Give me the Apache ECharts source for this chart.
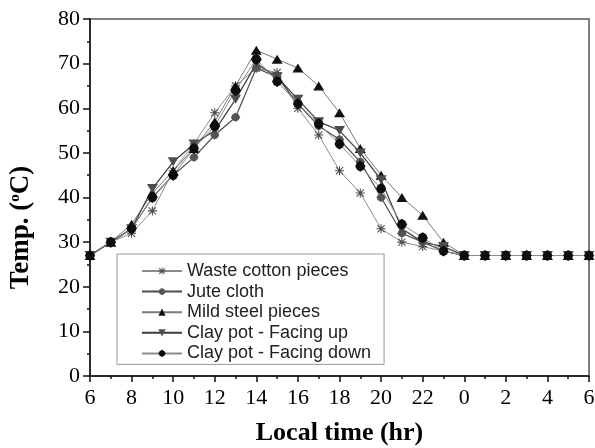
<!DOCTYPE html>
<html>
<head>
<meta charset="utf-8">
<script src="https://cdn.jsdelivr.net/npm/echarts@6/dist/echarts.min.js"></script>
<style>
  html, body { margin: 0; padding: 0; background: #fff; }
  #chart { width: 595px; height: 448px; }
</style>
</head>
<body>
<div id="chart"></div>
<script>
// Clock hour of each hourly reading, 06:00 through 06:00 the next day
const clockHours = [6, 7, 8, 9, 10, 11, 12, 13, 14, 15, 16, 17, 18, 19, 20, 21, 22, 23, 0, 1, 2, 3, 4, 5, 6];

// Temperatures (°C) for each absorber material
const wasteCotton = [27, 30, 32, 37, 46, 52, 59, 65, 69, 68, 60, 54, 46, 41, 33, 30, 29, 28, 27, 27, 27, 27, 27, 27, 27];
const juteCloth   = [27, 30, 33, 40, 45, 49, 54, 58, 69, 67, 61, 56, 53, 48, 40, 32, 30, 28, 27, 27, 27, 27, 27, 27, 27];
const mildSteel   = [27, 30, 34, 41, 46, 51, 57, 65, 73, 71, 69, 65, 59, 51, 45, 40, 36, 30, 27, 27, 27, 27, 27, 27, 27];
const clayPotUp   = [27, 30, 33, 42, 48, 52, 55, 62, 70, 67, 62, 57, 55, 50, 44, 33, 30, 29, 27, 27, 27, 27, 27, 27, 27];
const clayPotDown = [27, 30, 33, 40, 45, 51, 56, 64, 71, 66, 61, 56.5, 52, 47, 42, 34, 31, 28, 27, 27, 27, 27, 27, 27, 27];

const seriesNames = ['Waste cotton pieces', 'Jute cloth', 'Mild steel pieces', 'Clay pot - Facing up', 'Clay pot - Facing down'];

// Marker shapes
const asterisk = 'path://M4.4,0H5.6V10H4.4Z M0,4.4H10V5.6H0Z M0.6,1.4L1.4,0.6L9.4,8.6L8.6,9.4Z M8.6,0.6L9.4,1.4L1.4,9.4L0.6,8.6Z';
const roundDiamond = 'path://M5,0L8.5,2L10,5L8.5,8L5,10L1.5,8L0,5L1.5,2Z';

const pairs = vals => vals.map((v, i) => [i, v]);

function lineSeries(name, vals, opts) {
  return Object.assign({
    name: name,
    type: 'line',
    data: pairs(vals),
    showSymbol: true,
    lineStyle: { width: opts.width || 1, color: opts.line },
    itemStyle: { color: opts.marker, borderWidth: 0 },
    emphasis: { disabled: true },
    z: 2
  }, opts.extra || {});
}

const chart = echarts.init(document.getElementById('chart'), null, { renderer: 'canvas' });

const serif = '"Liberation Serif", "Times New Roman", serif';

chart.setOption({
  animation: false,
  backgroundColor: '#fff',
  grid: {
    left: 90, right: 6, top: 19, bottom: 72,
    outerBoundsMode: 'none',
    containLabel: false,
    show: true, borderColor: '#555', borderWidth: 1.5, backgroundColor: 'transparent'
  },
  legend: {
    orient: 'vertical',
    left: 117, top: 254,
    padding: [8, 13, 2, 24],
    itemWidth: 40, itemHeight: 9, itemGap: 2.6,
    backgroundColor: '#fff',
    borderColor: '#9a9a9a', borderWidth: 1, borderRadius: 0,
    textStyle: { fontFamily: '"Liberation Sans", Arial, sans-serif', fontSize: 18, color: '#222', lineHeight: 18 },
    data: seriesNames
  },
  xAxis: {
    type: 'value',
    min: 0, max: 24, interval: 2,
    name: 'Local time (hr)',
    nameLocation: 'middle',
    nameGap: 44,
    nameTextStyle: { fontFamily: serif, fontWeight: 'bold', fontSize: 26, color: '#000' },
    axisLine: { show: true, lineStyle: { color: '#111', width: 1.5 } },
    axisTick: { show: true, inside: false, length: 6, lineStyle: { color: '#111', width: 1.5 } },
    minorTick: { show: true, splitNumber: 2, length: 3, lineStyle: { color: '#111', width: 1.5 } },
    splitLine: { show: false },
    axisLabel: {
      margin: 11,
      fontFamily: serif, fontSize: 22, color: '#000',
      formatter: v => String(clockHours[v])
    }
  },
  yAxis: {
    type: 'value',
    min: 0, max: 80, interval: 10,
    name: '{t|Temp. (}{s|o}{t|C)}',
    nameLocation: 'middle',
    nameGap: 55,
    nameTextStyle: {
      padding: [0, 60, 0, 0],
      rich: {
        t: { fontFamily: serif, fontWeight: 'bold', fontSize: 27, color: '#000' },
        s: { fontFamily: serif, fontWeight: 'bold', fontSize: 15, color: '#000', verticalAlign: 'top' }
      }
    },
    axisLine: { show: true, lineStyle: { color: '#111', width: 1.5 } },
    axisTick: { show: true, inside: false, length: 7, lineStyle: { color: '#111', width: 1.5 } },
    minorTick: { show: true, splitNumber: 2, length: 3, lineStyle: { color: '#111', width: 1.5 } },
    splitLine: { show: false },
    axisLabel: { margin: 10, fontFamily: serif, fontSize: 22, color: '#000' }
  },
  series: [
    lineSeries(seriesNames[0], wasteCotton, { line: '#8c8c8c', marker: '#4a4a4a', extra: { symbol: asterisk, symbolSize: 9 } }),
    lineSeries(seriesNames[1], juteCloth,   { line: '#4d4d4d', marker: '#555555', width: 1.2, extra: { symbol: roundDiamond, symbolSize: 9 } }),
    lineSeries(seriesNames[2], mildSteel,   { line: '#7a7a7a', marker: '#111111', extra: { symbol: 'triangle', symbolSize: [11, 9] } }),
    lineSeries(seriesNames[3], clayPotUp,   { line: '#3d3d3d', marker: '#4d4d4d', width: 1.2, extra: { symbol: 'triangle', symbolRotate: 180, symbolSize: [11, 9] } }),
    lineSeries(seriesNames[4], clayPotDown, { line: '#8c8c8c', marker: '#0d0d0d', extra: { symbol: roundDiamond, symbolSize: [10, 11] } })
  ]
});
</script>
</body>
</html>
